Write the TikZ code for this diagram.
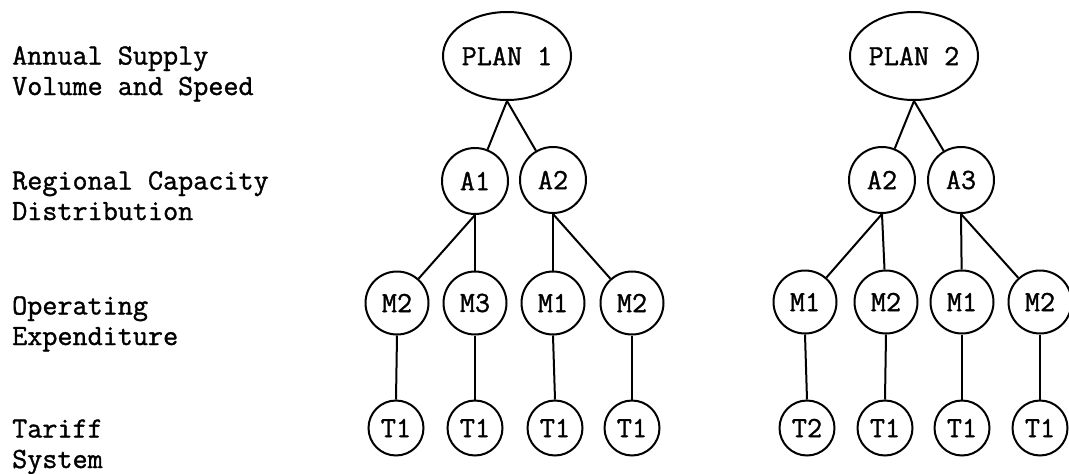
\documentclass[tikz,border=0pt]{standalone}
\usepackage{fontspec}
\setmainfont{Latin Modern Mono}[AutoFakeBold=1.2]
\usetikzlibrary{shapes.geometric}
\begin{document}
\begin{tikzpicture}[x=1pt,y=-1pt,
  every node/.style={font=\fontsize{29.3}{30.5}\selectfont\bfseries},
  level/.style={anchor=base west,align=left,inner sep=0pt},
  planbox/.style={draw,ellipse,line width=2pt,minimum width=117pt,minimum height=88pt,inner sep=0pt},
  abox/.style={draw,circle,line width=2pt,minimum size=66pt,inner sep=0pt},
  mbox/.style={draw,circle,line width=2pt,minimum size=63pt,inner sep=0pt},
  tbox/.style={draw,circle,line width=2pt,minimum size=55pt,inner sep=0pt},
  link/.style={line width=2pt}]
\useasboundingbox (0,0) rectangle (1069,474);

% level captions (anchored at the baseline of the second line)
\node[level] (cap1) at (12,95)  {Annual Supply\\Volume and Speed};
\node[level] (cap2) at (12,220) {Regional Capacity\\Distribution};
\node[level] (cap3) at (12,345) {Operating\\Expenditure};
\node[level] (cap4) at (12,468) {Tariff\\System};

% plan 1
\node[planbox] (p1) at (507,56) {PLAN 1};
\node[abox] (p1a1) at (475,181) {A1};
\node[abox] (p1a2) at (553,180) {A2};
\node[mbox] (p1m1) at (397,303) {M2};
\node[mbox] (p1m2) at (475,303) {M3};
\node[mbox] (p1m3) at (553,303) {M1};
\node[mbox] (p1m4) at (632,303) {M2};
\node[tbox] (p1t1) at (396,428) {T1};
\node[tbox] (p1t2) at (475,428) {T1};
\node[tbox] (p1t3) at (555,428) {T1};
\node[tbox] (p1t4) at (632,428) {T1};

% plan 2
\node[planbox] (p2) at (914,56) {PLAN 2};
\node[abox] (p2a1) at (882,180) {A2};
\node[abox] (p2a2) at (961,180) {A3};
\node[mbox] (p2m1) at (805,302) {M1};
\node[mbox] (p2m2) at (886,302) {M2};
\node[mbox] (p2m3) at (962,302) {M1};
\node[mbox] (p2m4) at (1040,302) {M2};
\node[tbox] (p2t1) at (807,428) {T2};
\node[tbox] (p2t2) at (885,428) {T1};
\node[tbox] (p2t3) at (962,428) {T1};
\node[tbox] (p2t4) at (1040,428) {T1};

% connectors
\foreach \p in {p1,p2}{
  \draw[link] (\p.south) -- (\p a1);
  \draw[link] (\p.south) -- (\p a2);
  \draw[link] (\p a1.south) -- (\p m1);
  \draw[link] (\p a1.south) -- (\p m2);
  \draw[link] (\p a2.south) -- (\p m3);
  \draw[link] (\p a2.south) -- (\p m4);
  \foreach \i in {1,2,3,4}
    \draw[link] (\p m\i.south) -- (\p t\i.north);
}
\end{tikzpicture}
\end{document}
